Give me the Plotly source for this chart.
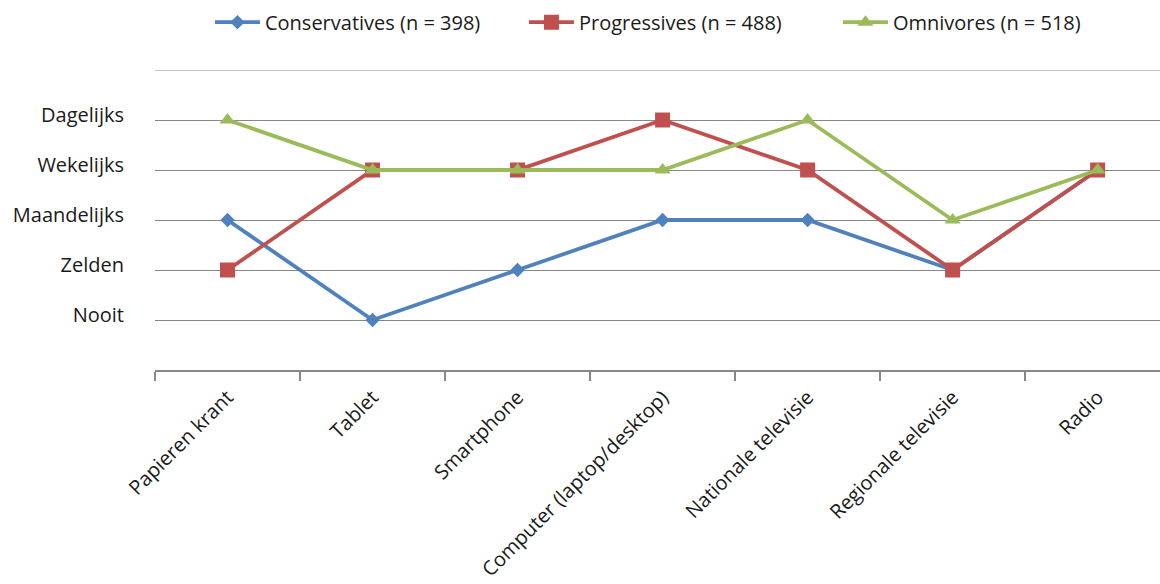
import plotly.graph_objects as go

categories = ["Papieren krant", "Tablet", "Smartphone", "Computer (laptop/desktop)",
              "Nationale televisie", "Regionale televisie", "Radio"]
level_values = [1, 2, 3, 4, 5]
level_labels = ["Nooit", "Zelden", "Maandelijks", "Wekelijks", "Dagelijks"]

conservatives = [3, 1, 2, 3, 3, 2, 4]
progressives = [2, 4, 4, 5, 4, 2, 4]
omnivores = [5, 4, 4, 4, 5, 3, 4]

series = [
    ("Conservatives (n = 398)", conservatives, "#4F81BD", "diamond", 11),
    ("Progressives (n = 488)", progressives, "#C0504D", "square", 15),
    ("Omnivores (n = 518)", omnivores, "#9BBB59", "triangle-up", 14),
]

fig = go.Figure()
for name, vals, color, sym, size in series:
    fig.add_trace(go.Scatter(
        x=categories, y=vals, name=name, mode="lines+markers",
        line=dict(color=color, width=3.8),
        marker=dict(symbol=sym, size=size, color=color),
    ))

font_family = "'Open Sans', sans-serif"
fs = 20
fig.update_layout(
    width=1160, height=584,
    margin=dict(l=155, r=0, t=70, b=214, autoexpand=False),
    plot_bgcolor="white", paper_bgcolor="white",
    font=dict(family=font_family, size=fs, color="#1a1a1a"),
    showlegend=True,
    legend=dict(orientation="h", xref="container", yref="container",
                x=0.181, xanchor="left", y=0.962, yanchor="middle",
                font=dict(size=fs), itemwidth=45, entrywidth=254, entrywidthmode="pixels",
                traceorder="normal", bgcolor="rgba(0,0,0,0)"),
)
fig.update_xaxes(
    type="category", range=[-0.5, 6.43],
    showgrid=False, showline=True, linecolor="#878787", linewidth=1.5,
    ticks="outside", tickson="boundaries", ticklen=9, tickcolor="#878787", tickwidth=1.5,
    tickangle=-45, tickfont=dict(size=fs), ticklabelstandoff=6, automargin=False,
)
fig.update_yaxes(
    range=[0, 6], tickvals=level_values, ticktext=level_labels,
    showgrid=True, gridcolor="#878787", gridwidth=1.2,
    showline=False, zeroline=False, ticks="",
    ticklabelshift=-5, ticklabelstandoff=30, tickfont=dict(size=fs), automargin=False,
)
fig.add_shape(type="line", xref="paper", yref="y", x0=0, x1=1, y0=6, y1=6,
              line=dict(color="#878787", width=1.2), layer="below")

fig.write_html("out.html")
